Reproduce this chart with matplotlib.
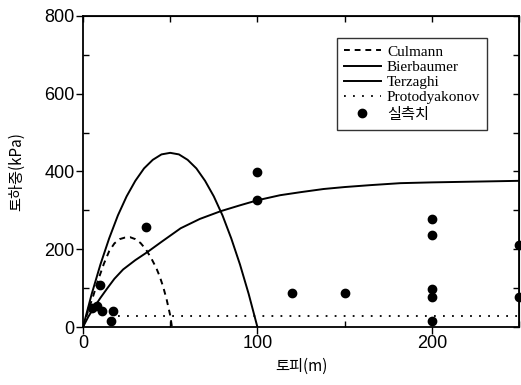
import matplotlib
matplotlib.use("Agg")
import matplotlib.pyplot as plt

# Theoretical loads (kPa) versus overburden depth (m)
culmann_x = [0, 3, 6, 9, 12, 15, 18, 21, 24, 27, 30, 33, 36, 39, 42, 44, 46, 48, 50, 51]
culmann_y = [0, 42, 82, 125, 163, 195, 215, 226, 230, 231, 226, 216, 200, 178, 152, 130, 103, 70, 30, 0]

bierbaumer_x = [0, 5, 10, 15, 20, 25, 30, 35, 40, 45, 50, 55, 60, 65, 70, 75, 80, 85, 90, 95, 100]
bierbaumer_y = [0, 85, 161, 228, 287, 336, 376, 408, 430, 444, 448, 444, 430, 408, 376, 336, 287, 228, 161, 85, 0]

terzaghi_x = [0, 3, 6, 10, 14, 18, 23, 30, 37, 45, 56, 67, 79, 90, 100, 113, 125,
              138, 150, 165, 182, 200, 225, 250]
terzaghi_y = [0, 26, 48, 75, 100, 124, 148, 172, 193, 219, 254, 278, 298, 313, 326, 339, 347,
              355, 360, 365, 370, 372, 374, 376]

protodyakonov_x = [20, 250]
protodyakonov_y = [28, 28]

# Measured loads
meas_x = [5, 8, 11, 17, 16, 10, 36, 100, 100, 120, 150, 200, 200, 200, 200, 200, 250, 250]
meas_y = [50, 55, 42, 40, 15, 108, 257, 398, 326, 87, 87, 278, 236, 98, 77, 15, 211, 77]

xticks = [0, 100, 200]
yticks = [0, 200, 400, 600, 800]

fig = plt.figure(figsize=(5.21, 3.85), dpi=100)
ax = fig.add_axes([83 / 521, 1 - 327 / 385, 436 / 521, 311 / 385])

lw = 1.4
l1, = ax.plot(culmann_x, culmann_y, color="black", lw=lw, ls=(0, (3, 2.5)))
l2, = ax.plot(bierbaumer_x, bierbaumer_y, color="black", lw=lw)
l3, = ax.plot(terzaghi_x, terzaghi_y, color="black", lw=lw)
l4, = ax.plot(protodyakonov_x, protodyakonov_y, color="black", lw=1.3, ls=(0, (1, 4)))
l5, = ax.plot(meas_x, meas_y, "o", color="black", ms=6, clip_on=False)

ax.set_xlim(0, 250)
ax.set_ylim(0, 800)
ax.set_xticks(xticks)
ax.set_yticks(yticks)
ax.set_xticks([50, 150, 250], minor=True)
ax.set_yticks([100, 300, 500, 700], minor=True)
ax.tick_params(which="major", direction="out", length=5, width=1,
               labelsize=13, pad=1)
ax.tick_params(which="minor", direction="in", length=4, width=1)
for lab in ax.get_xticklabels() + ax.get_yticklabels():
    lab.set_fontfamily("Liberation Sans")

for s in ax.spines.values():
    s.set_linewidth(1.3)

# inward ticks on the top and right edges
top = ax.secondary_xaxis("top")
top.set_xticks([0, 50, 100, 150, 200, 250])
top.tick_params(direction="in", length=4, width=1, labeltop=False)
right = ax.secondary_yaxis("right")
right.set_yticks([0, 100, 200, 300, 400, 500, 600, 700, 800])
right.tick_params(direction="in", length=4, width=1, labelright=False)

ax.set_xlabel("토피(m)", fontfamily="Noto Sans CJK KR", fontsize=11, labelpad=4)
ax.set_ylabel("토하중(kPa)", fontfamily="Noto Sans CJK KR", fontsize=11, labelpad=14)

leg = ax.legend([l1, l2, l3, l4, l5],
                ["Culmann", "Bierbaumer", "Terzaghi", "Protodyakonov", "실측치"],
                loc="upper right", bbox_to_anchor=(0.927, 0.929), borderaxespad=0,
                frameon=True, fancybox=False, edgecolor="black",
                handlelength=2.4, handletextpad=0.4, labelspacing=0.1,
                borderpad=0.45, fontsize=11)
leg.get_frame().set_linewidth(1.0)
for t in leg.get_texts()[:4]:
    t.set_fontfamily("Liberation Serif")
leg.get_texts()[4].set_fontfamily("Noto Sans CJK KR")

fig.savefig("out.png", dpi=100)
